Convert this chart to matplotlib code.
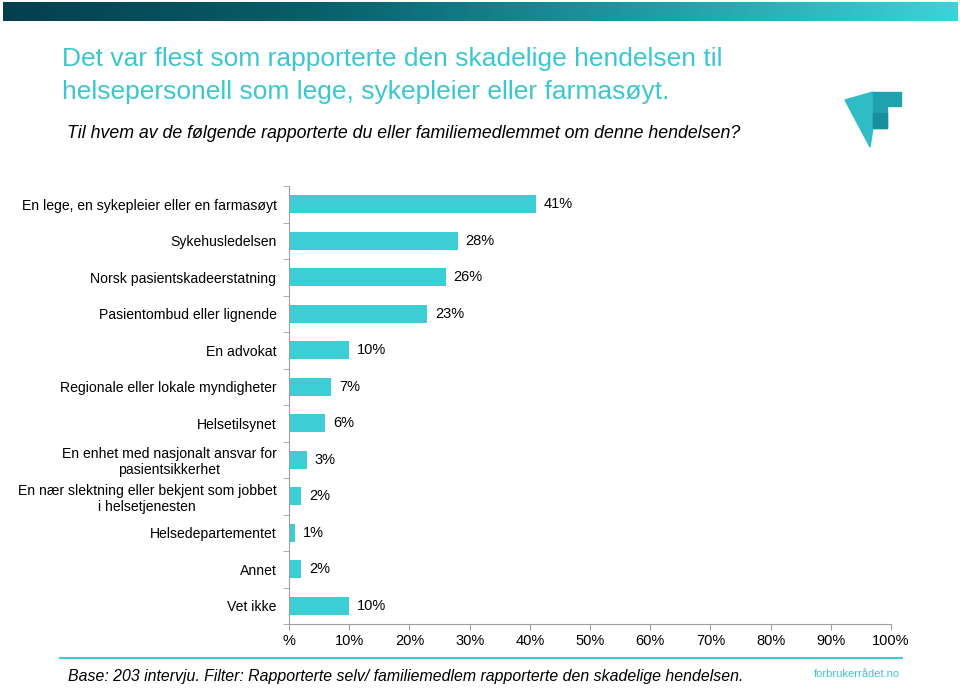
import numpy as np
import matplotlib
matplotlib.use("Agg")
import matplotlib.pyplot as plt
from matplotlib.colors import LinearSegmentedColormap
from matplotlib.patches import Polygon

plt.rcParams['font.family'] = ['Liberation Sans', 'DejaVu Sans']

# data
kategorier = ["En lege, en sykepleier eller en farmasøyt",
              "Sykehusledelsen",
              "Norsk pasientskadeerstatning",
              "Pasientombud eller lignende",
              "En advokat",
              "Regionale eller lokale myndigheter",
              "Helsetilsynet",
              "En enhet med nasjonalt ansvar for\npasientsikkerhet",
              "En nær slektning eller bekjent som jobbet\ni helsetjenesten",
              "Helsedepartementet",
              "Annet",
              "Vet ikke"]
verdier = [41, 28, 26, 23, 10, 7, 6, 3, 2, 1, 2, 10]
x_ticks = [0, 10, 20, 30, 40, 50, 60, 70, 80, 90, 100]
x_labels = ["%", "10%", "20%", "30%", "40%", "50%", "60%", "70%", "80%", "90%", "100%"]

bar_farge = "#3dcdd5"
tittel_farge = "#3cc6cf"

fig = plt.figure(figsize=(9.6, 6.88), dpi=100)

# gradient-stripe øverst
top = fig.add_axes([0.003, 1 - 21/688, 0.994, 19/688])
cmap = LinearSegmentedColormap.from_list("g", ["#053f4d", "#08606b", "#1f9aa3", "#3dd2d9"])
top.imshow(np.linspace(0, 1, 256).reshape(1, -1), aspect="auto", cmap=cmap)
top.axis("off")

fig.text(62/960, 1 - 59/688, "Det var flest som rapporterte den skadelige hendelsen til",
         color=tittel_farge, fontsize=19, va="center")
fig.text(62/960, 1 - 92/688, "helsepersonell som lege, sykepleier eller farmasøyt.",
         color=tittel_farge, fontsize=19, va="center")
fig.text(67/960, 1 - 133/688, "Til hvem av de følgende rapporterte du eller familiemedlemmet om denne hendelsen?",
         fontsize=12.8, style="italic", va="center")

# logo
lg = fig.add_axes([0.0, 0.0, 1.0, 1.0], zorder=-1)
lg.set_xlim(0, 960)
lg.set_ylim(688, 0)
lg.axis("off")
lg.add_patch(Polygon([(845, 100), (873, 92), (873, 128), (870, 147)], closed=True, color="#2fbcc5"))
lg.add_patch(Polygon([(873, 92), (901, 92), (901, 106), (887, 106), (887, 128), (873, 128)],
                     closed=True, color="#1fa2ad"))
lg.add_patch(Polygon([(873, 113), (887, 113), (887, 128), (873, 128)], closed=True, color="#168f9a"))
lg.plot([60, 902], [658, 658], color="#3dcdd5", lw=1.5)

ax = fig.add_axes([289/960, 1 - 624/688, 602/960, 438/688])
y = np.arange(len(kategorier))
ax.barh(y, verdier, height=0.48, color=bar_farge)
for yi, v in zip(y, verdier):
    ax.text(v + 1.3, yi, f"{v}%", va="center", ha="left", fontsize=10.5)
ax.set_ylim(len(kategorier) - 0.5, -0.5)
ax.set_xlim(0, 100)
ax.set_yticks(y)
ax.set_yticklabels(kategorier, fontsize=10.1, ha="right", multialignment="center")
ax.set_yticks(np.arange(-0.5, len(kategorier), 1), minor=True)
ax.tick_params(axis="y", which="major", length=0, pad=9)
ax.tick_params(axis="y", which="minor", length=4, color="#a0a0a0")
ax.set_xticks(x_ticks)
ax.set_xticklabels(x_labels, fontsize=10.5)
ax.tick_params(axis="x", length=4, color="#a0a0a0", pad=3)
for s in ["top", "right"]:
    ax.spines[s].set_visible(False)
ax.spines["left"].set_color("#a0a0a0")
ax.spines["bottom"].set_color("#a0a0a0")

fig.text(68/960, 1 - 677/688, "Base: 203 intervju. Filter: Rapporterte selv/ familiemedlem rapporterte den skadelige hendelsen.",
         fontsize=11.4, style="italic", va="center")
fig.text(900/960, 1 - 674/688, "forbrukerrådet.no", fontsize=8, color="#3cc6cf",
         ha="right", va="center")

fig.savefig("out.png", dpi=100)
